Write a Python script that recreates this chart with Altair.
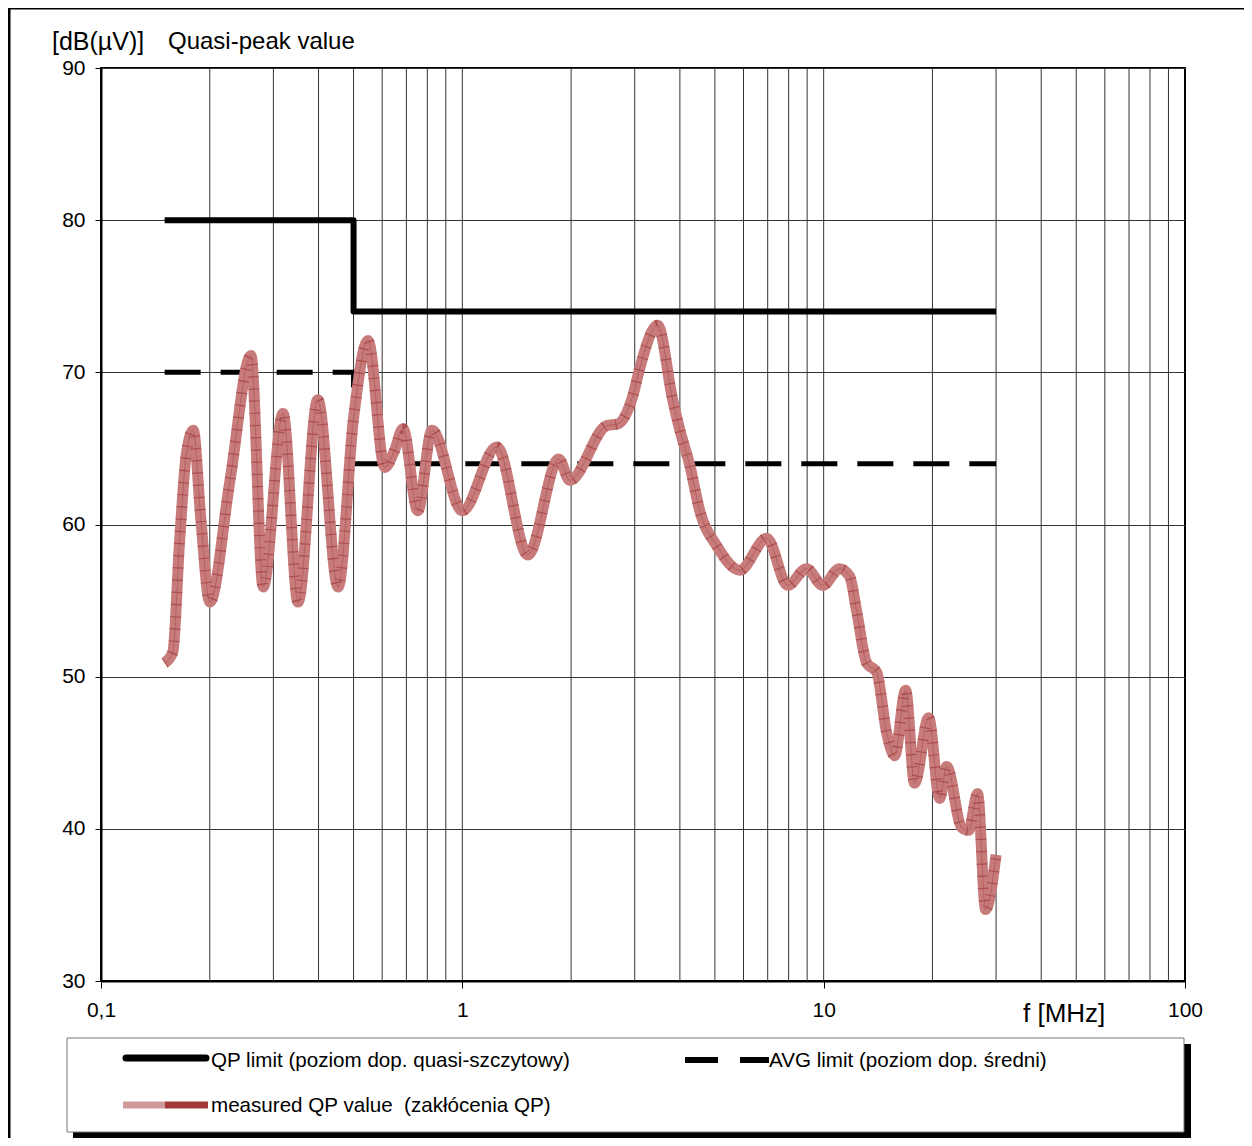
import altair as alt
import pandas as pd

FONT = "Liberation Sans"

# ---- data ----
# measured quasi-peak trace: frequency [MHz] and level [dB(uV)]
meas_f = [0.150, 0.158, 0.165, 0.172, 0.180, 0.189, 0.200, 0.2275, 0.260, 0.281,
          0.319, 0.351, 0.398, 0.453, 0.500, 0.548, 0.610, 0.650, 0.685, 0.753,
          0.824, 1.00, 1.246, 1.518, 1.849, 1.983, 2.51, 2.69, 2.96, 3.10,
          3.47, 3.82, 4.00, 4.26, 4.54, 5.06, 5.86, 6.96, 7.95, 8.97,
          9.94, 11.07, 11.80, 12.34, 13.15, 14.02, 14.94, 15.72, 16.86, 17.85,
          19.52, 20.94, 21.89, 24.08, 25.18, 26.67, 28.06, 30.0]
meas_v = [50.9, 51.6, 58.9, 64.5, 66.2, 60.3, 54.9, 62.9, 71.1, 55.9,
          67.3, 54.9, 68.2, 55.9, 67.0, 72.1, 63.75, 64.9, 66.3, 60.9,
          66.2, 60.9, 65.1, 58.0, 64.3, 62.9, 66.5, 66.6, 68.4, 70.3,
          73.1, 68.2, 66.2, 63.9, 60.9, 58.6, 57.0, 59.1, 56.0, 57.1,
          56.0, 57.1, 56.6, 54.3, 50.9, 50.3, 46.3, 44.8, 49.1, 43.0,
          47.3, 42.0, 44.1, 40.1, 39.9, 42.3, 34.7, 38.3]

# limits
qp_f = [0.15, 0.5, 0.5, 30]
qp_v = [80, 80, 74, 74]
avg_f = [0.15, 0.5, 0.5, 30]
avg_v = [70, 70, 64, 64]

# axes
x_ticks = [0.1, 1, 10, 100]
y_ticks = [30, 40, 50, 60, 70, 80, 90]
grid_f = [0.2, 0.3, 0.4, 0.5, 0.6, 0.7, 0.8, 0.9, 1,
          2, 3, 4, 5, 6, 7, 8, 9, 10,
          20, 30, 40, 50, 60, 70, 80, 90]

# texts
y_unit = "[dB(\u00b5V)]"
y_title = "Quasi-peak value"
x_title = "f [MHz]"
leg_qp = "QP limit (poziom dop. quasi-szczytowy)"
leg_avg = "AVG limit (poziom dop. \u015bredni)"
leg_meas = "measured QP value\u00a0 (zak\u0142\u00f3cenia QP)"

# ---- tables ----
meas_df = pd.DataFrame({"f": meas_f, "v": meas_v})
qp_df = pd.DataFrame({"f": qp_f, "v": qp_v, "i": range(len(qp_f))})
avg_df = pd.DataFrame({"f": avg_f, "v": avg_v, "i": range(len(avg_f))})
grid_df = pd.DataFrame({"g": grid_f})
one = pd.DataFrame({"k": [0]})

xs = alt.Scale(type="log", domain=[0.1, 100], nice=False)
ys = alt.Scale(domain=[30, 90], nice=False, zero=False)

x_axis = alt.Axis(values=x_ticks,
                  labelExpr="replace(toString(datum.value), '.', ',')",
                  tickSize=7, tickColor="black", tickWidth=1,
                  domainColor="black", domainWidth=2, grid=False,
                  labelFont=FONT, labelFontSize=21, labelColor="black",
                  labelPadding=11, labelFlush=False, labelOverlap=False,
                  title="")
y_axis = alt.Axis(values=y_ticks, tickSize=6, tickColor="black", tickWidth=1,
                  domainColor="black", domainWidth=2,
                  grid=True, gridColor="#333333", gridWidth=1,
                  labelFont=FONT, labelFontSize=21, labelColor="black",
                  labelPadding=10, labelFlush=False, labelOverlap=False,
                  title="")

X = lambda f: alt.X(f, type="quantitative", scale=xs, axis=x_axis)
Y = lambda f: alt.Y(f, type="quantitative", scale=ys, axis=y_axis)

grid = alt.Chart(grid_df).mark_rule(color="#333333", strokeWidth=1).encode(x=X("g"))

qp = alt.Chart(qp_df).mark_line(color="black", strokeWidth=6, strokeJoin="round").encode(
    x=X("f"), y=Y("v"), order="i:Q")
avg = alt.Chart(avg_df).mark_line(color="black", strokeWidth=5, strokeDash=[36, 20]).encode(
    x=X("f"), y=Y("v"), order="i:Q")

m_base = alt.Chart(meas_df).mark_line(color="#c77b7b", strokeWidth=11, interpolate="monotone",
                                      strokeJoin="round").encode(x=X("f"), y=Y("v"))
m_hatch = alt.Chart(meas_df).mark_line(color="#8b1a1a", strokeWidth=11, interpolate="monotone",
                                       strokeDash=[1.2, 11], opacity=0.45).encode(x=X("f"), y=Y("v"))
m_center = alt.Chart(meas_df).mark_line(color="#9e3b3b", strokeWidth=1, interpolate="monotone",
                                        opacity=0.4).encode(x=X("f"), y=Y("v"))


def txt(s, x, y, size, align="left"):
    return alt.Chart(one).mark_text(font=FONT, fontSize=size, color="black", align=align,
                                    baseline="middle").encode(
        x=alt.value(x), y=alt.value(y), text=alt.value(s))


def hrule(x1, x2, y, w, color="black", cap="butt", dash=None):
    kw = dict(color=color, strokeWidth=w, strokeCap=cap)
    if dash:
        kw["strokeDash"] = dash
    return alt.Chart(one).mark_rule(**kw).encode(x=alt.value(x1), x2=alt.value(x2), y=alt.value(y))


def vrule(x, y1, y2, w, color="black"):
    return alt.Chart(one).mark_rule(color=color, strokeWidth=w).encode(
        x=alt.value(x), y=alt.value(y1), y2=alt.value(y2))


# outer page frame (left and top)
frame_l = vrule(-92, -61, 1070, 3)
frame_t = hrule(-93, 1143, -60, 3)

# legend box with shadow
leg_shadow = alt.Chart(one).mark_rect(color="black").encode(
    x=alt.value(-28), x2=alt.value(1090), y=alt.value(976), y2=alt.value(1070))
leg_box = alt.Chart(one).mark_rect(fill="white", stroke="#777777", strokeWidth=1).encode(
    x=alt.value(-34), x2=alt.value(1083), y=alt.value(970), y2=alt.value(1064))

leg_qp_line = hrule(25, 105, 990, 7, cap="round")
leg_avg1 = hrule(584, 617, 992, 6)
leg_avg2 = hrule(639, 668, 992, 6)
leg_m1 = hrule(22, 64, 1037, 7, color="#cf9a9a")
leg_m2 = hrule(64, 107, 1037, 7, color="#a23838")

layers = [
    frame_l, frame_t,
    grid, qp, avg, m_base, m_hatch, m_center,
    txt(y_unit, -49, -26, 25),
    txt(y_title, 67, -26, 24),
    txt(x_title, 922, 946, 26),
    leg_shadow, leg_box,
    leg_qp_line, leg_avg1, leg_avg2, leg_m1, leg_m2,
    txt(leg_qp, 110, 993, 20.6),
    txt(leg_avg, 668, 993, 20.6),
    txt(leg_meas, 110, 1038, 20.6),
]

chart = alt.layer(*layers).properties(
    width=1084, height=913,
    padding={"left": 93, "top": 60, "right": 59, "bottom": 157},
    autosize=alt.AutoSizeParams(type="none"),
    background="white",
).configure_view(stroke="black", strokeWidth=2)

chart.save("out.html", embed_options={"renderer": "svg", "actions": False})
